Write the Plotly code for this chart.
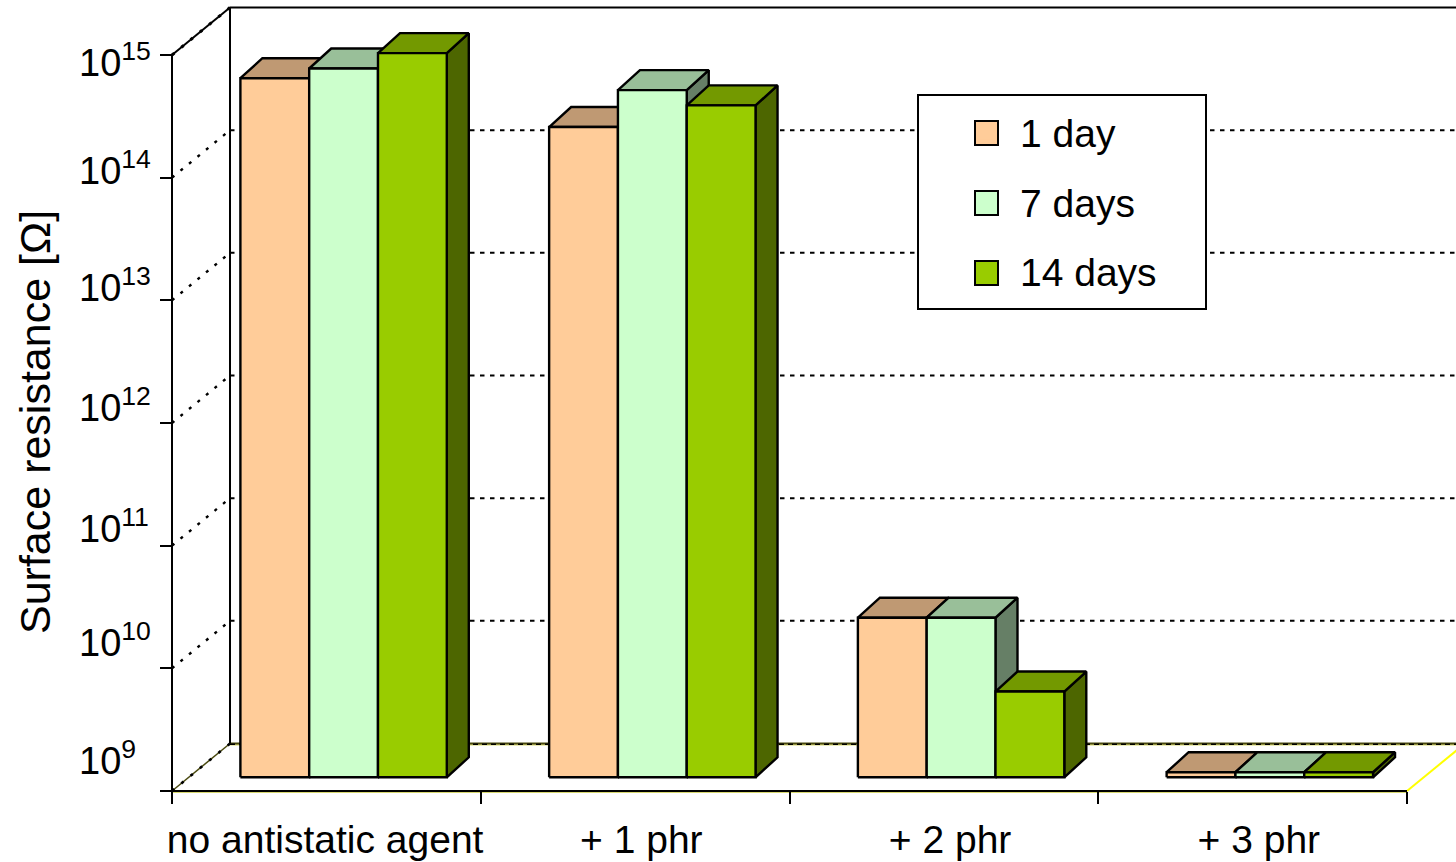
import math
import plotly.graph_objects as go

# Chart values
categories = ["no antistatic agent", "+ 1 phr", "+ 2 phr", "+ 3 phr"]
series_names = ["1 day", "7 days", "14 days"]
one_day = [5e14, 2e14, 2e10, 1.1e9]
seven_days = [6e14, 4e14, 2e10, 1.1e9]
fourteen_days = [8e14, 3e14, 5e9, 1.1e9]
decades = [9, 10, 11, 12, 13, 14, 15]
y_title = "Surface resistance [Ω]"

# Face colours per series: front, top, side
front_colors = ["#FFCC99", "#CCFFCC", "#99CC00"]
top_colors = ["#BF9973", "#99BF99", "#739900"]
side_colors = ["#7F664D", "#667F66", "#4D6600"]

# Page and scale geometry
W, H = 1456, 862
PX_PER_CAT = 308.75
PX_PER_DECADE = 122.67
AXIS_LEFT, AXIS_BOTTOM = 172, 791


def px_x(n):
    return n / PX_PER_CAT


def px_dec(n):
    return n / PX_PER_DECADE


# Oblique projection of the depth axis
WALL_DX, WALL_DY = px_x(58), px_dec(47.5)
BAR_DX, BAR_DY = px_x(22), px_dec(20)
FLOOR_SHIFT = px_dec(13.7)
BAR_W = px_x(68.8)
GROUP_START = 0.2215
X_END = 4.0
X_MAX = (W - AXIS_LEFT) / PX_PER_CAT
EDGE = 2.4

fig = go.Figure()


def line(xs, logs, color="black", width=2, dash="solid"):
    fig.add_trace(go.Scatter(
        x=xs, y=[10 ** v for v in logs], mode="lines",
        line=dict(color=color, width=width, dash=dash),
        hoverinfo="skip", showlegend=False))


def face(xs, logs, color):
    fig.add_trace(go.Scatter(
        x=xs + xs[:1], y=[10 ** v for v in logs + logs[:1]],
        mode="lines", fill="toself", fillcolor=color,
        line=dict(color="black", width=EDGE),
        hoverinfo="skip", showlegend=False))


# Floor outline
DOT = "4.5px,5.5px"
OLIVE = "#4A4A10"
line([0, WALL_DX], [9, 9 + WALL_DY], OLIVE, 1.5)
line([0, WALL_DX], [9, 9 + WALL_DY], "black", 2.6, "3px,9px")
line([WALL_DX, X_MAX], [9 + WALL_DY - px_dec(1)] * 2, "#D8D870", 2)
line([WALL_DX, X_MAX], [9 + WALL_DY] * 2, OLIVE, 2)
line([WALL_DX, X_MAX], [9 + WALL_DY - px_dec(0.7)] * 2, "black", 1.5, "5px,4px")
line([X_END, X_END + WALL_DX], [9, 9 + WALL_DY], "#FFFF00", 2)

# Walls and dotted gridlines
line([WALL_DX, WALL_DX], [9 + WALL_DY, 15 + WALL_DY])
line([0, 0], [9, 15])
line([0, WALL_DX], [15, 15 + WALL_DY])
line([0, WALL_DX], [15, 15 + WALL_DY], "black", 3, "3px,9px")
line([WALL_DX, X_MAX], [15 + WALL_DY] * 2)
for k in decades[1:-1]:
    line([0, WALL_DX], [k, k + WALL_DY], "black", 2.4, "3px,8px")
    line([WALL_DX, X_MAX], [k + WALL_DY] * 2, "black", 2, DOT)

# Front edge of the floor
line([0, X_END], [9 - px_dec(1.2)] * 2, "#D8D870", 1.5)
line([0, X_END], [9, 9], "black", 2)

# Bars, painted left to right so nearer faces cover farther ones
series = [one_day, seven_days, fourteen_days]
for g in range(len(categories)):
    for s, values in enumerate(series):
        x0 = g + GROUP_START + s * BAR_W
        x1 = x0 + BAR_W
        low = 9 + FLOOR_SHIFT
        high = math.log10(values[g]) + FLOOR_SHIFT
        face([x1, x1 + BAR_DX, x1 + BAR_DX, x1],
             [low, low + BAR_DY, high + BAR_DY, high], side_colors[s])
        face([x0, x0 + BAR_DX, x1 + BAR_DX, x1],
             [high, high + BAR_DY, high + BAR_DY, high], top_colors[s])
        face([x0, x1, x1, x0], [low, low, high, high], front_colors[s])

# Legend entries
for name, color in zip(series_names, front_colors):
    fig.add_trace(go.Scatter(
        x=[None], y=[None], mode="markers", name=name, legendgroup=name,
        marker=dict(symbol="square", size=16, color=color,
                    line=dict(color=color, width=0))))

FONT = "Liberation Sans, Arial, sans-serif"
label_shifts = [33, 28, 20, 18, 15, 10, -5]
annotations = [
    dict(x=-px_x(95), y=k, xref="x", yref="y", xanchor="left", yanchor="middle",
         yshift=shift, showarrow=False, text=f"10<sup>{k}</sup>",
         font=dict(family=FONT, size=38, color="black"))
    for k, shift in zip(decades, label_shifts)
]
annotations.append(dict(
    x=35 / W, y=1 - 422 / H, xref="paper", yref="paper", textangle=-90,
    xanchor="center", yanchor="middle", showarrow=False, text=y_title,
    font=dict(family=FONT, size=43, color="black")))

# Legend frame and its colour keys
shapes = [dict(type="rect", xref="paper", yref="paper", layer="above",
               x0=918 / W, x1=1206 / W, y0=1 - 95 / H, y1=1 - 309 / H,
               fillcolor="white", line=dict(color="black", width=2))]
for cy, color in zip([133, 203, 273], front_colors):
    shapes.append(dict(type="rect", xref="paper", yref="paper", layer="above",
                       x0=975 / W, x1=998 / W, y0=1 - (cy - 12) / H, y1=1 - (cy + 12) / H,
                       fillcolor=color, line=dict(color="black", width=2)))

fig.update_layout(
    width=W, height=H,
    margin=dict(l=0, r=0, t=0, b=0),
    paper_bgcolor="white", plot_bgcolor="white",
    showlegend=True,
    legend=dict(
        x=952 / W, y=1 - 100 / H, xanchor="left", yanchor="top",
        bgcolor="rgba(0,0,0,0)", borderwidth=0, itemwidth=58,
        tracegroupgap=16, font=dict(family=FONT, size=39, color="black"),
        itemclick=False, itemdoubleclick=False),
    xaxis=dict(
        range=[-AXIS_LEFT / PX_PER_CAT, X_MAX],
        anchor="free", position=(H - AXIS_BOTTOM) / H,
        showgrid=False, zeroline=False, showline=False,
        tickmode="array", tickvals=[0.496, 1.52, 2.52, 3.52], ticktext=categories,
        ticks="", ticklabelstandoff=22,
        tickfont=dict(family=FONT, size=39, color="black"),
        minor=dict(tickmode="array", tickvals=[0, 1, 2, 3, 4], ticks="outside",
                   ticklen=12, tickwidth=2, tickcolor="black", showgrid=False)),
    yaxis=dict(
        type="log",
        range=[9 - (H - AXIS_BOTTOM) / PX_PER_DECADE, 9 + AXIS_BOTTOM / PX_PER_DECADE],
        anchor="free", position=AXIS_LEFT / W,
        showgrid=False, zeroline=False, showline=False,
        tickmode="array", tickvals=[10 ** k for k in decades],
        showticklabels=False, ticks="outside", ticklen=12, tickwidth=2,
        tickcolor="black"),
    shapes=shapes,
    annotations=annotations,
)

fig.write_html("out.html", config=dict(displayModeBar=False))
